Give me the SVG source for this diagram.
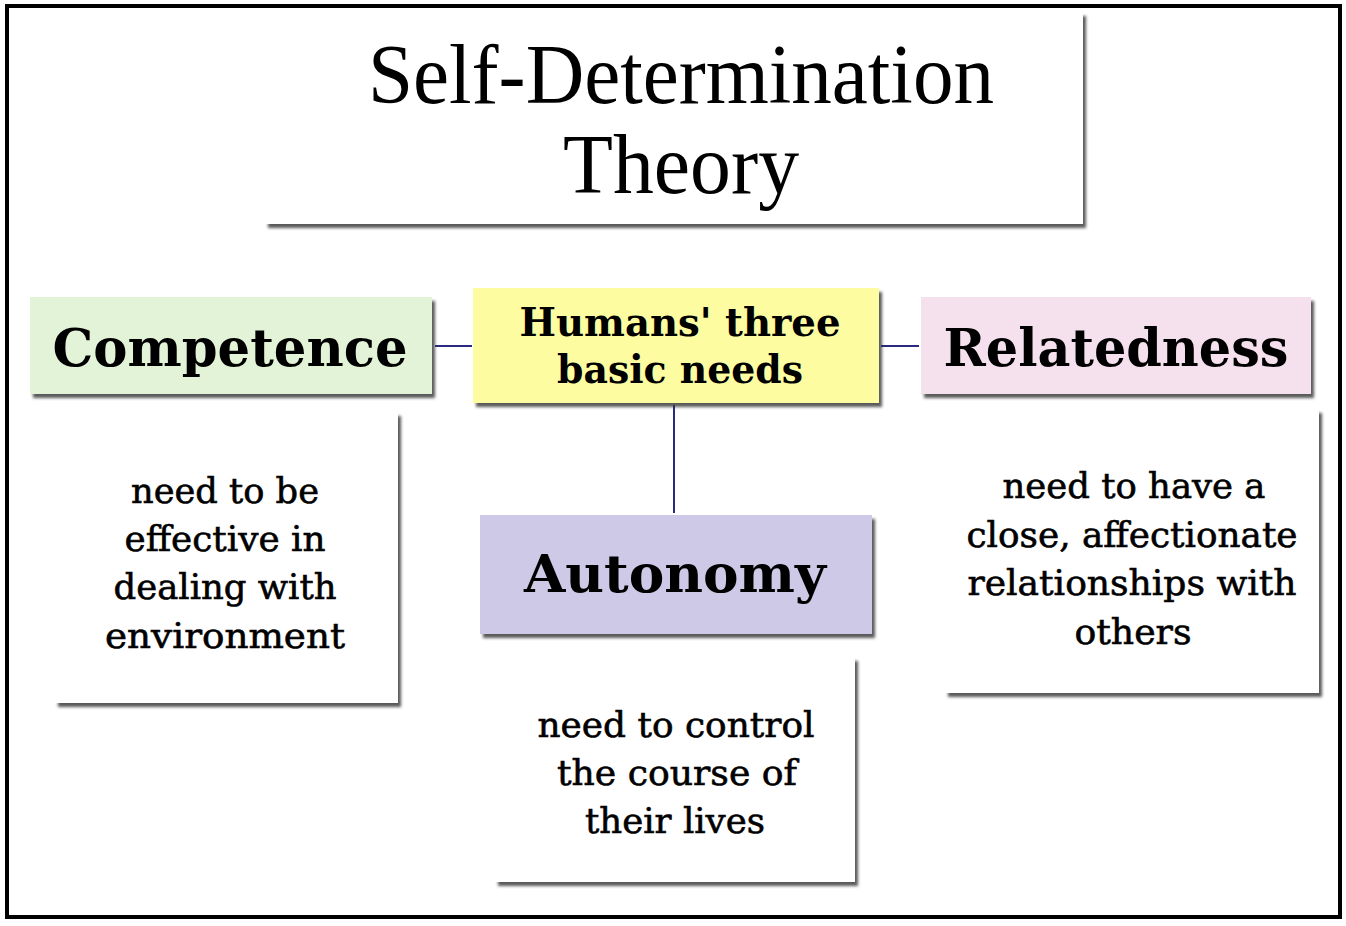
<svg xmlns="http://www.w3.org/2000/svg" width="1346" height="926" viewBox="0 0 1346 926">
<defs>
<filter id="sh" x="-5%" y="-5%" width="115%" height="125%">
<feDropShadow dx="3" dy="4" stdDeviation="1.6" flood-color="#333" flood-opacity="0.8"/>
</filter>
<style>
.box{filter:url(#sh);}
.title{font-family:"Liberation Serif","Times New Roman",serif;font-size:84px;fill:#000;text-anchor:middle;}
.lbl{font-family:"DejaVu Serif","Liberation Serif",serif;font-weight:bold;fill:#000;text-anchor:middle;}
.desc{font-family:"DejaVu Serif","Liberation Serif",serif;font-size:36px;fill:#000;stroke:#000;stroke-width:0.6;text-anchor:middle;}
.conn{stroke:#2a2a80;stroke-width:2;fill:none;}
</style>
</defs>
<rect x="0" y="0" width="1346" height="926" fill="#fff"/>
<rect x="7" y="6" width="1333" height="911" fill="#fff" stroke="#000" stroke-width="4"/>

<g id="connectors">
<line class="conn" x1="435" y1="346" x2="472" y2="346"/>
<line class="conn" x1="881" y1="346" x2="919" y2="346"/>
<line class="conn" x1="674" y1="405" x2="674" y2="513"/>
</g>

<g id="title">
<rect class="box" x="265" y="12" width="818" height="212" fill="#fff"/>
<text class="title" x="681" y="103" textLength="626" lengthAdjust="spacingAndGlyphs">Self-Determination</text>
<text class="title" x="681" y="193" textLength="236" lengthAdjust="spacingAndGlyphs">Theory</text>
</g>

<g id="competence">
<rect class="box" x="30" y="297" width="402" height="97" fill="#e2f3d8"/>
<text class="lbl" x="230" y="366" font-size="52" textLength="355" lengthAdjust="spacingAndGlyphs">Competence</text>
</g>

<g id="needs">
<rect class="box" x="473" y="288" width="406" height="115" fill="#fefca0"/>
<text class="lbl" x="680" y="336" font-size="39" textLength="321" lengthAdjust="spacingAndGlyphs">Humans' three</text>
<text class="lbl" x="680" y="383" font-size="39" textLength="246" lengthAdjust="spacingAndGlyphs">basic needs</text>
</g>

<g id="relatedness">
<rect class="box" x="921" y="297" width="390" height="97" fill="#f5e0ee"/>
<text class="lbl" x="1116" y="366" font-size="52" textLength="345" lengthAdjust="spacingAndGlyphs">Relatedness</text>
</g>

<g id="autonomy">
<rect class="box" x="480" y="515" width="392" height="119" fill="#cdc9e6"/>
<text class="lbl" x="675" y="592" font-size="52" textLength="302" lengthAdjust="spacingAndGlyphs">Autonomy</text>
</g>

<g id="competence-desc">
<rect class="box" x="55" y="412" width="343" height="291" fill="#fff"/>
<text class="desc" x="225" y="503" textLength="188" lengthAdjust="spacingAndGlyphs">need to be</text>
<text class="desc" x="225" y="551" textLength="201" lengthAdjust="spacingAndGlyphs">effective in</text>
<text class="desc" x="225" y="599" textLength="223" lengthAdjust="spacingAndGlyphs">dealing with</text>
<text class="desc" x="225" y="648" textLength="240" lengthAdjust="spacingAndGlyphs">environment</text>
</g>

<g id="autonomy-desc">
<rect class="box" x="495" y="657" width="360" height="225" fill="#fff"/>
<text class="desc" x="676" y="737" textLength="277" lengthAdjust="spacingAndGlyphs">need to control</text>
<text class="desc" x="677" y="785" textLength="240" lengthAdjust="spacingAndGlyphs">the course of</text>
<text class="desc" x="675" y="833" textLength="180" lengthAdjust="spacingAndGlyphs">their lives</text>
</g>

<g id="relatedness-desc">
<rect class="box" x="945" y="409" width="374" height="284" fill="#fff"/>
<text class="desc" x="1134" y="498" textLength="263" lengthAdjust="spacingAndGlyphs">need to have a</text>
<text class="desc" x="1132" y="547" textLength="331" lengthAdjust="spacingAndGlyphs">close, affectionate</text>
<text class="desc" x="1132" y="595" textLength="329" lengthAdjust="spacingAndGlyphs">relationships with</text>
<text class="desc" x="1133" y="644" textLength="117" lengthAdjust="spacingAndGlyphs">others</text>
</g>
</svg>
